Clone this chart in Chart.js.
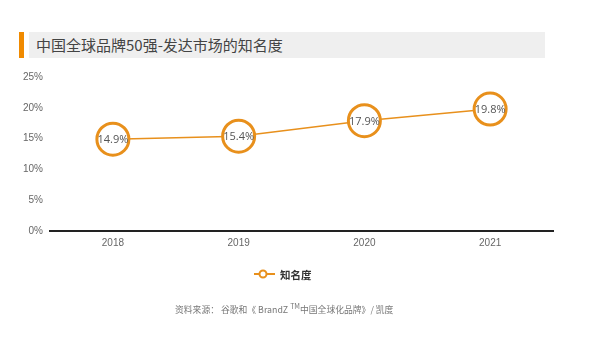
<!DOCTYPE html>
<html>
<head>
<meta charset="utf-8">
<script src="https://cdn.jsdelivr.net/npm/chart.js@4"></script>
<style>
  html, body { margin: 0; padding: 0; background: #fff; }
  body { width: 600px; height: 352px; position: relative; overflow: hidden;
         font-family: "Open Sans", "Noto Sans CJK SC", sans-serif; }
  #bar { position: absolute; left: 19px; top: 32px; width: 5px; height: 26px; background: #f08a00; }
  #title { position: absolute; left: 29px; top: 32px; width: 516px; height: 26px; background: #efefef;
           font-family: "Noto Sans CJK SC", sans-serif; font-size: 15px; line-height: 26px;
           color: #444; padding-left: 7px; box-sizing: border-box; }
  #wrap { position: absolute; left: 0; top: 0; width: 600px; height: 289px; }
  #legend { position: absolute; left: 254px; top: 266px; height: 16px; display: flex; align-items: center;
            font-family: "Noto Sans CJK SC", sans-serif; font-size: 10.5px; font-weight: bold; color: #333; }
  #legend canvas { margin-right: 5px; }
  #source { position: absolute; left: 175px; top: 301px; font-size: 8.8px; color: #777;
            font-family: "Noto Sans CJK SC", sans-serif; white-space: nowrap; }
  #source sup { font-size: 7px; }
</style>
</head>
<body>
<div id="wrap"><canvas id="chart"></canvas></div>
<div id="bar"></div>
<div id="title">中国全球品牌50强-发达市场的知名度</div>
<div id="legend"></div>
<div id="source">资料来源： 谷歌和《 BrandZ <sup>TM</sup>中国全球化品牌》/ 凯度</div>
<script>
// Datos del gráfico
const years = ['2018', '2019', '2020', '2021'];
const awareness = [14.9, 15.4, 17.9, 19.8];
const seriesName = '知名度';
const orange = '#e8901c';

// Etiquetas dentro de los círculos
const valueLabels = {
    id: 'valueLabels',
    afterDatasetsDraw(chart) {
        const ctx = chart.ctx;
        const meta = chart.getDatasetMeta(0);
        ctx.save();
        ctx.font = '11px "Open Sans", sans-serif';
        ctx.fillStyle = '#555';
        ctx.textAlign = 'center';
        ctx.textBaseline = 'middle';
        meta.data.forEach((pt, i) => {
            ctx.fillText(awareness[i].toFixed(1) + '%', pt.x, pt.y + 1);
        });
        ctx.restore();
    }
};

const chart = new Chart(document.getElementById('chart'), {
    type: 'line',
    data: {
        labels: years,
        datasets: [{
            label: seriesName,
            data: awareness,
            borderColor: orange,
            borderWidth: 1.5,
            pointRadius: 16,
            pointHoverRadius: 16,
            pointBorderWidth: 3,
            pointBackgroundColor: '#fff',
            pointBorderColor: orange,
            tension: 0
        }]
    },
    options: {
        responsive: true,
        maintainAspectRatio: false,
        animation: false,
        layout: { padding: { left: 16, right: 47, top: 77, bottom: 34 } },
        plugins: {
            tooltip: { enabled: false },
            legend: { display: false }
        },
        scales: {
            x: {
                offset: true,
                grid: { display: false, drawTicks: false },
                border: { display: true, color: '#222', width: 2 },
                ticks: { color: '#666', font: { size: 10 }, padding: 6 }
            },
            y: {
                min: 0,
                max: 25,
                grid: { display: false, drawTicks: false },
                border: { display: false },
                ticks: {
                    stepSize: 5,
                    color: '#666',
                    font: { size: 10 },
                    padding: 7,
                    callback: v => v + '%'
                }
            }
        }
    },
    plugins: [valueLabels]
});

// Leyenda en HTML: línea con círculo + nombre de la serie
const legendEl = document.getElementById('legend');
const icon = document.createElement('canvas');
icon.width = 21;
icon.height = 10;
const ic = icon.getContext('2d');
const ds = chart.data.datasets[0];
ic.strokeStyle = ds.borderColor;
ic.lineWidth = 2;
ic.beginPath(); ic.moveTo(0, 5); ic.lineTo(21, 5); ic.stroke();
ic.fillStyle = '#fff';
ic.beginPath(); ic.arc(9, 5, 3.5, 0, Math.PI * 2); ic.fill(); ic.stroke();
legendEl.appendChild(icon);
legendEl.appendChild(document.createTextNode(ds.label));
</script>
</body>
</html>
